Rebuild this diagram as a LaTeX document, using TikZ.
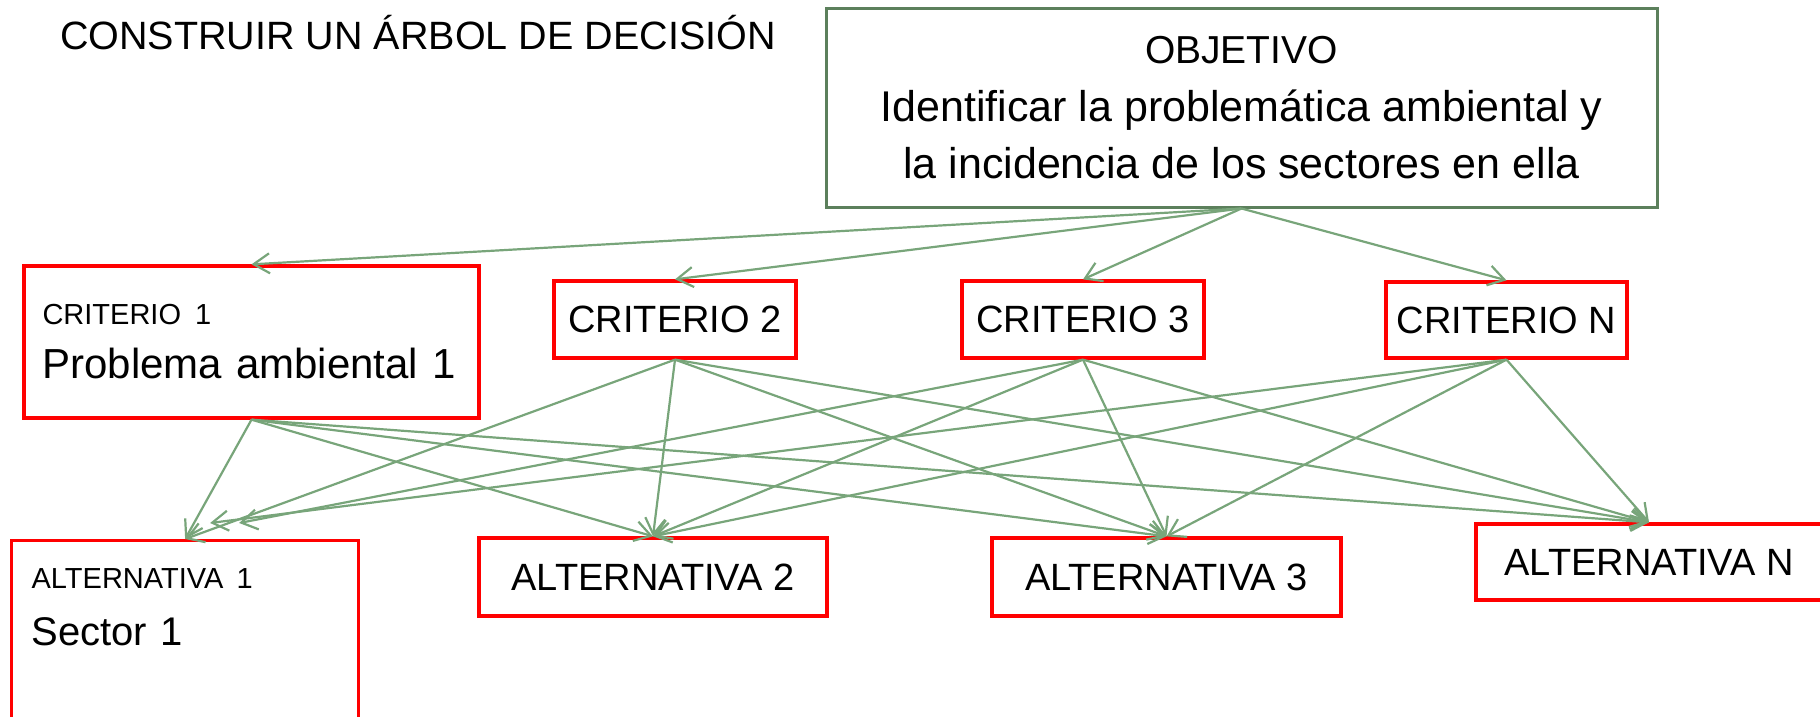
\documentclass[tikz,border=0pt]{standalone}
\usepackage{fontspec}
\setmainfont{Liberation Sans}
\usepackage{tikz}
\usetikzlibrary{arrows.meta, calc, positioning}
\definecolor{verdeobj}{RGB}{92,128,92}
\definecolor{verdeflecha}{RGB}{120,165,122}
\definecolor{rojo}{RGB}{255,0,0}

\begin{document}
\begin{tikzpicture}[x=1pt, y=-1pt,
		caja/.style={draw=rojo, line width=3.3pt, inner sep=0pt, align=center, font=\fontsize{38}{46}\selectfont},
		flecha/.style={-{Straight Barb[length=16pt,width=20pt]}, draw=verdeflecha, line width=2.2pt}]
			\useasboundingbox (0,0) rectangle (1820,717);
			
			\node(titulo) [anchor=base west, inner sep=0pt, font=\fontsize{39.5}{47}\selectfont] at (60,50) {CONSTRUIR UN ÁRBOL DE DECISIÓN};
			
			\node(objetivo) [draw=verdeobj, line width=3pt, minimum width=831pt, minimum height=198pt, align=center, font=\fontsize{43}{57.5}\selectfont] at (1241.5,108) {{\fontsize{39}{47}\selectfont OBJETIVO}\\ 
				Identificar la problemática ambiental y\\
				la incidencia de los sectores en ella};
			
			\node(crit1) [caja, minimum width=455pt, minimum height=152pt, text width=418pt, align=left, font=\fontsize{42}{54}\selectfont] at (251.5,342) {{\fontsize{29}{35}\selectfont CRITERIO 1}\\
				Problema ambiental 1};
			\node(crit2) [caja, minimum width=242pt, minimum height=77pt] at (675,319.5) {CRITERIO 2};
			\node(crit3) [caja, minimum width=242pt, minimum height=77pt] at (1083,319.5) {CRITERIO 3};
			\node(critN) [caja, minimum width=241pt, minimum height=76pt] at (1506.5,320) {CRITERIO N};
			
			\node(alt1) [caja, anchor=north west, minimum width=347pt, text width=307pt, align=left, inner ysep=28pt, text depth=170pt, font=\fontsize{40}{57}\selectfont] at (10,539) {{\fontsize{29}{35}\selectfont ALTERNATIVA 1}\\
				Sector 1};
			\node(alt2) [caja, minimum width=348pt, minimum height=78pt] at (653,577) {ALTERNATIVA 2};
			\node(alt3) [caja, minimum width=349pt, minimum height=78pt] at (1166.5,577) {ALTERNATIVA 3};
			\node(altN) [caja, minimum width=346pt, minimum height=76pt] at (1649,562) {ALTERNATIVA N};
			
			% objetivo -> criterios
			\draw[flecha] (objetivo.south) -- (crit1.north);
			\draw[flecha] (objetivo.south) -- (crit2.north);
			\draw[flecha] (objetivo.south) -- (crit3.north);
			\draw[flecha] (objetivo.south) -- (critN.north);
			
			% criterios -> alternativas
			\draw[flecha] (crit1.south) -- (alt1.north);
			\draw[flecha] (crit1.south) -- (alt2.north);
			\draw[flecha] (crit1.south) -- (alt3.north);
			\draw[flecha] (crit1.south) -- (altN.north);
			
			\draw[flecha] (crit2.south) -- (alt1.north);
			\draw[flecha] (crit2.south) -- (alt2.north);
			\draw[flecha] (crit2.south) -- (alt3.north);
			\draw[flecha] (crit2.south) -- (altN.north);
			
			\draw[flecha] (crit3.south) -- ($(alt1.north)+(54,-16)$);
			\draw[flecha] (crit3.south) -- (alt2.north);
			\draw[flecha] (crit3.south) -- (alt3.north);
			\draw[flecha] (crit3.south) -- (altN.north);
			
			\draw[flecha] (critN.south) -- ($(alt1.north)+(25,-16)$);
			\draw[flecha] (critN.south) -- (alt2.north);
			\draw[flecha] (critN.south) -- (alt3.north);
			\draw[flecha] (critN.south) -- (altN.north);
		\end{tikzpicture}
\end{document}
